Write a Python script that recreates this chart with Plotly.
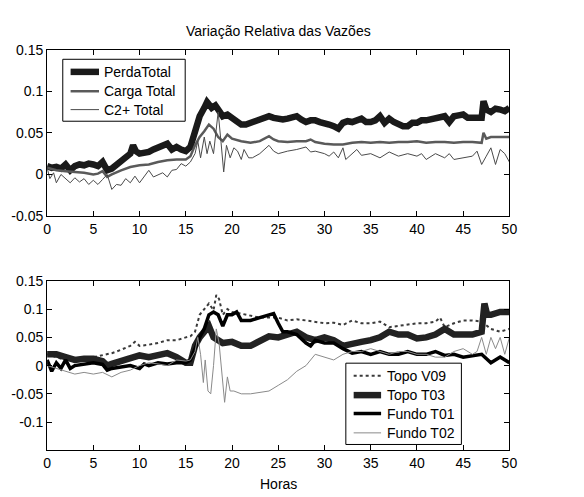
import plotly.graph_objects as go

# ---- Painel superior: vazões totais ----
perda_h = [0, 0.5, 1, 1.5, 2, 2.5, 3, 3.5, 4, 4.5, 5, 5.5, 6, 6.5, 7, 7.5, 8, 8.5, 9, 9.3,
           9.6, 10, 10.5, 11, 11.5, 12, 12.5, 13, 13.5, 14, 14.5, 15, 15.5, 16, 16.5, 17, 17.3, 17.8, 18.2, 18.7,
           19, 19.5, 20, 20.5, 21, 21.5, 22, 22.5, 23, 23.5, 24, 24.5, 25, 25.5, 26, 26.5, 27, 27.5, 28, 28.5,
           29, 29.5, 30, 30.5, 31, 31.5, 32, 32.5, 33, 33.5, 34, 34.5, 35, 35.5, 36, 36.5, 37, 37.5, 38, 38.5,
           39, 39.5, 40, 40.5, 41, 41.5, 42, 42.5, 43, 43.5, 44, 44.5, 45, 45.5, 46, 46.5, 47, 47.2, 47.5, 48,
           48.5, 49, 49.5, 50]
perda_total = [0.010, 0.008, 0.009, 0.007, 0.012, 0.005, 0.010, 0.012, 0.011, 0.013,
               0.012, 0.010, 0.015, 0.005, 0.007, 0.011, 0.015, 0.020, 0.025, 0.035,
               0.028, 0.025, 0.026, 0.027, 0.030, 0.032, 0.034, 0.037, 0.030, 0.033,
               0.030, 0.028, 0.033, 0.050, 0.070, 0.080, 0.087, 0.080, 0.083, 0.075,
               0.070, 0.072, 0.068, 0.064, 0.060, 0.060, 0.062, 0.064, 0.065, 0.067,
               0.070, 0.068, 0.067, 0.066, 0.067, 0.068, 0.070, 0.066, 0.063, 0.065,
               0.065, 0.063, 0.062, 0.060, 0.058, 0.055, 0.062, 0.064, 0.063, 0.066,
               0.067, 0.063, 0.063, 0.065, 0.070, 0.062, 0.067, 0.063, 0.060, 0.058,
               0.058, 0.062, 0.062, 0.065, 0.065, 0.066, 0.068, 0.070, 0.070, 0.063,
               0.070, 0.071, 0.072, 0.068, 0.068, 0.068, 0.068, 0.088, 0.078, 0.075,
               0.079, 0.078, 0.076, 0.080]

carga_h = [0, 1, 2, 3, 4, 5, 5.5, 6, 6.5, 7, 8, 9, 10, 11, 12, 13, 14, 15, 15.5, 16,
           16.5, 17, 17.5, 18, 18.5, 19, 19.5, 20, 21, 22, 23, 24, 24.5, 25, 26, 27, 28, 28.5, 29, 30,
           31, 32, 33, 34, 35, 36, 37, 38, 39, 40, 41, 42, 43, 44, 45, 46, 47, 47.2, 47.5, 48,
           49, 50]
carga_total = [0.008, 0.005, 0.004, 0.003, 0.002, 0.000, 0.001, 0.004, -0.003, 0.000,
               0.005, 0.009, 0.011, 0.012, 0.015, 0.017, 0.018, 0.018, 0.022, 0.035,
               0.045, 0.052, 0.060, 0.055, 0.045, 0.040, 0.048, 0.043, 0.040, 0.038,
               0.040, 0.046, 0.042, 0.040, 0.039, 0.040, 0.040, 0.042, 0.039, 0.037,
               0.036, 0.036, 0.038, 0.039, 0.038, 0.039, 0.038, 0.039, 0.039, 0.040,
               0.038, 0.039, 0.039, 0.038, 0.039, 0.039, 0.038, 0.050, 0.043, 0.045,
               0.045, 0.045]

c2_h = [0, 0.3, 0.7, 1, 1.5, 2, 2.5, 3, 3.5, 4, 4.5, 5, 5.5, 6, 6.5, 7, 7.5, 8, 8.5, 9,
        9.5, 10, 10.5, 11, 11.5, 12, 12.5, 13, 13.5, 14, 14.5, 15, 15.5, 16, 16.3, 16.6, 17, 17.3, 17.6, 18,
        18.3, 18.5, 18.8, 19.1, 19.4, 19.8, 20.2, 20.6, 21, 21.3, 21.8, 22.2, 23, 24, 24.5, 25, 26, 27, 28, 28.5,
        29, 30, 30.5, 31, 31.5, 32, 32.3, 33, 33.5, 34, 35, 36, 37, 38, 39, 40, 40.5, 41, 42, 43,
        43.5, 44, 45, 46, 46.5, 47, 47.5, 48, 48.5, 49, 49.5, 50]
c2_total = [0.008, -0.005, 0.002, -0.010, 0.000, -0.005, -0.010, -0.004, -0.009, -0.005,
            -0.012, -0.007, -0.012, -0.006, 0.000, -0.018, -0.012, -0.013, -0.005, -0.010,
            -0.002, -0.010, -0.002, 0.005, -0.003, 0.000, 0.002, -0.003, 0.005, 0.006,
            0.013, 0.010, 0.015, 0.025, 0.040, 0.020, 0.045, 0.025, 0.040, 0.025,
            0.060, 0.075, 0.040, 0.003, 0.035, 0.020, 0.032, 0.028, 0.018, 0.030,
            0.020, 0.020, 0.025, 0.035, 0.028, 0.025, 0.028, 0.030, 0.033, 0.027,
            0.028, 0.025, 0.022, 0.027, 0.020, 0.032, 0.018, 0.025, 0.030, 0.023,
            0.025, 0.020, 0.027, 0.022, 0.025, 0.022, 0.025, 0.018, 0.025, 0.020,
            0.025, 0.018, 0.020, 0.022, 0.028, 0.012, 0.022, 0.032, 0.012, 0.030,
            0.025, 0.015]

# ---- Painel inferior: topo e fundo das torres ----
v09_h = [0, 1, 2, 3, 4, 5, 6, 7, 8, 9, 9.5, 10, 11, 12, 13, 14, 15, 15.5, 16, 16.5,
         17, 17.5, 18, 18.3, 18.6, 19, 19.5, 20, 21, 22, 23, 24, 25, 26, 27, 28, 29, 30, 31, 32,
         33, 34, 35, 36, 37, 38, 39, 40, 41, 42, 42.5, 43, 44, 45, 46, 47, 48, 49, 50]
topo_v09 = [0.020, 0.015, 0.010, 0.012, 0.012, 0.015, 0.018, 0.022, 0.028, 0.035,
            0.042, 0.035, 0.037, 0.040, 0.045, 0.045, 0.050, 0.052, 0.060, 0.090,
            0.100, 0.110, 0.098, 0.125, 0.118, 0.090, 0.100, 0.095, 0.092, 0.088,
            0.085, 0.085, 0.085, 0.080, 0.082, 0.080, 0.078, 0.075, 0.076, 0.072,
            0.080, 0.075, 0.075, 0.078, 0.068, 0.070, 0.072, 0.075, 0.075, 0.078,
            0.085, 0.068, 0.075, 0.080, 0.080, 0.078, 0.065, 0.060, 0.065]

t03_h = [0, 1, 2, 3, 4, 5, 6, 6.5, 7, 8, 9, 10, 11, 12, 13, 14, 15, 15.5, 16, 16.5,
         17, 17.5, 18, 18.5, 19, 20, 21, 22, 23, 24, 25, 26, 27, 28, 29, 30, 31, 32, 33, 34,
         35, 36, 37, 38, 39, 40, 41, 42, 43, 44, 45, 46, 47, 47.3, 47.6, 48, 49, 50]
topo_t03 = [0.020, 0.020, 0.015, 0.010, 0.012, 0.012, 0.008, 0.000, 0.003, 0.008,
            0.012, 0.018, 0.015, 0.018, 0.022, 0.015, 0.005, 0.005, 0.035, 0.050,
            0.060, 0.070, 0.050, 0.045, 0.040, 0.042, 0.035, 0.035, 0.045, 0.052,
            0.050, 0.055, 0.060, 0.050, 0.045, 0.050, 0.045, 0.035, 0.040, 0.042,
            0.045, 0.050, 0.060, 0.055, 0.055, 0.048, 0.050, 0.055, 0.065, 0.055,
            0.055, 0.055, 0.060, 0.110, 0.090, 0.090, 0.095, 0.095]

t01_h = [0, 0.5, 1, 1.5, 2, 2.5, 3, 4, 5, 6, 6.5, 7, 8, 9, 10, 10.5, 11, 12, 13, 14,
         15, 15.5, 16, 16.5, 17, 17.5, 18, 18.5, 19, 19.5, 20, 20.5, 21, 22, 23, 24, 24.5, 25, 25.5, 26,
         27, 28, 28.5, 29, 30, 31, 32, 33, 34, 35, 36, 37, 38, 39, 40, 41, 42, 43, 44, 45,
         46, 47, 48, 49, 50]
fundo_t01 = [0.010, -0.010, 0.005, -0.005, 0.010, -0.005, 0.000, 0.002, 0.005, 0.002,
             -0.008, -0.005, -0.003, 0.000, -0.005, 0.003, 0.000, 0.005, 0.003, 0.005,
             0.005, 0.010, 0.030, 0.050, 0.065, 0.090, 0.095, 0.090, 0.070, 0.090,
             0.090, 0.095, 0.080, 0.080, 0.085, 0.090, 0.092, 0.075, 0.060, 0.060,
             0.055, 0.040, 0.035, 0.045, 0.040, 0.040, 0.030, 0.022, 0.025, 0.020,
             0.025, 0.020, 0.020, 0.025, 0.020, 0.020, 0.025, 0.018, 0.020, 0.015,
             0.018, 0.020, 0.005, 0.015, 0.005]

t02_h = [0, 1, 2, 3, 4, 5, 6, 7, 8, 9, 10, 11, 12, 13, 14, 15, 15.5, 16, 16.3, 16.6,
         16.9, 17.1, 17.4, 17.7, 18, 18.3, 18.6, 18.9, 19.2, 19.5, 19.8, 20.2, 21, 22, 23, 24, 25, 26, 27, 28,
         29, 30, 31, 32, 33, 34, 35, 36, 37, 38, 39, 40, 41, 42, 43, 44, 45, 46, 46.5, 47,
         47.5, 48, 48.5, 49, 49.5, 50]
fundo_t02 = [0.000, -0.005, -0.010, -0.015, -0.012, -0.015, -0.012, -0.020, -0.012, -0.008,
             0.000, 0.005, 0.003, 0.000, 0.010, 0.008, 0.010, 0.025, 0.050, 0.020,
             -0.030, 0.010, -0.045, -0.050, 0.000, 0.065, 0.040, -0.020, -0.065, -0.020,
             -0.045, -0.045, -0.050, -0.050, -0.047, -0.045, -0.035, -0.025, -0.010, 0.000,
             0.020, 0.015, 0.010, 0.020, 0.025, 0.025, 0.030, 0.025, 0.020, 0.025,
             0.025, 0.020, 0.020, 0.015, 0.015, 0.025, 0.030, 0.020, 0.025, 0.050,
             0.020, 0.050, 0.030, 0.050, 0.020, 0.050]

# Marcas dos eixos
x_ticks = [0, 5, 10, 15, 20, 25, 30, 35, 40, 45, 50]
y_ticks_sup = [-0.05, 0, 0.05, 0.1, 0.15]
y_text_sup = ["-0.05", "0", "0.05", "0.1", "0.15"]
y_ticks_inf = [-0.1, -0.05, 0, 0.05, 0.1, 0.15]
y_text_inf = ["-0.1", "-0.05", "0", "0.05", "0.1", "0.15"]

FONT = "Liberation Sans, Arial, sans-serif"
W, H = 584, 497

# (horas, valores, nome, estilo da linha, painel)
series_sup = [
    (perda_h, perda_total, "PerdaTotal", dict(color="#1a1a1a", width=6.5)),
    (carga_h, carga_total, "Carga Total", dict(color="#5a5a5a", width=2.5)),
    (c2_h, c2_total, "C2+ Total", dict(color="#4a4a4a", width=1)),
]
series_inf = [
    (v09_h, topo_v09, "Topo V09", dict(color="#3a3a3a", width=2, dash="dot")),
    (t03_h, topo_t03, "Topo T03", dict(color="#222222", width=6.5)),
    (t01_h, fundo_t01, "Fundo T01", dict(color="#000000", width=3.5)),
    (t02_h, fundo_t02, "Fundo T02", dict(color="#8a8a8a", width=1)),
]

fig = go.Figure()
for hx, vy, nome, estilo in series_sup:
    fig.add_trace(go.Scatter(x=hx, y=vy, name=nome, mode="lines", line=estilo,
                             xaxis="x", yaxis="y", showlegend=False))
for hx, vy, nome, estilo in series_inf:
    fig.add_trace(go.Scatter(x=hx, y=vy, name=nome, mode="lines", line=estilo,
                             xaxis="x2", yaxis="y2", showlegend=False))


def px(x, y):
    return x / W, 1 - y / H


shapes, annotations = [], []


def caixa_legenda(series, x0, y0, x1, y1, lx0, lx1, tx, linhas_y):
    a, b = px(x0, y0)
    c, d = px(x1, y1)
    shapes.append(dict(type="rect", xref="paper", yref="paper", x0=a, y0=d, x1=c, y1=b,
                       line=dict(color="black", width=1), fillcolor="white", layer="above"))
    for (_, _, nome, estilo), yy in zip(series, linhas_y):
        p0, q = px(lx0, yy)
        p1, _ = px(lx1, yy)
        shapes.append(dict(type="line", xref="paper", yref="paper", x0=p0, y0=q, x1=p1, y1=q,
                           line=estilo, layer="above"))
        t, _ = px(tx, yy)
        annotations.append(dict(text=nome, x=t, y=q, xref="paper", yref="paper",
                                xanchor="left", yanchor="middle", showarrow=False,
                                font=dict(family=FONT, size=14, color="black")))


caixa_legenda(series_sup, 60, 53, 185, 117, 68, 97, 100, [66, 86, 105])
caixa_legenda(series_inf, 349, 367, 467, 451, 357, 385, 389, [380, 400, 419, 439])

tx, ty = px(280, 24)
annotations.append(dict(text="Variação Relativa das Vazões", x=tx, y=ty, xref="paper", yref="paper",
                        xanchor="center", yanchor="middle", showarrow=False,
                        font=dict(family=FONT, size=14, color="black")))
hx_, hy_ = px(280, 492)
annotations.append(dict(text="Horas", x=hx_, y=hy_, xref="paper", yref="paper",
                        xanchor="center", yanchor="middle", showarrow=False,
                        font=dict(family=FONT, size=14, color="black")))

xdom = [44 / W, 516 / W]
axis_common = dict(showline=True, linecolor="black", linewidth=1, mirror="ticks",
                   ticks="inside", ticklen=5, tickcolor="black", showgrid=False, zeroline=False,
                   tickfont=dict(family=FONT, size=14, color="black"))

fig.update_layout(
    width=W, height=H,
    margin=dict(l=0, r=0, t=0, b=0),
    paper_bgcolor="white", plot_bgcolor="white",
    font=dict(family=FONT, size=14, color="black"),
    xaxis=dict(domain=xdom, anchor="y", range=[0, 50], tickvals=x_ticks, **axis_common),
    yaxis=dict(domain=[1 - 215 / H, 1 - 43 / H], anchor="x", range=[-0.05, 0.15],
               tickvals=y_ticks_sup, ticktext=y_text_sup, **axis_common),
    xaxis2=dict(domain=xdom, anchor="y2", range=[0, 50], tickvals=x_ticks, **axis_common),
    yaxis2=dict(domain=[1 - 457 / H, 1 - 282 / H], anchor="x2", range=[-0.15, 0.15],
                tickvals=y_ticks_inf, ticktext=y_text_inf, **axis_common),
    shapes=shapes,
    annotations=annotations,
    showlegend=False,
)

fig.write_html("out.html")
